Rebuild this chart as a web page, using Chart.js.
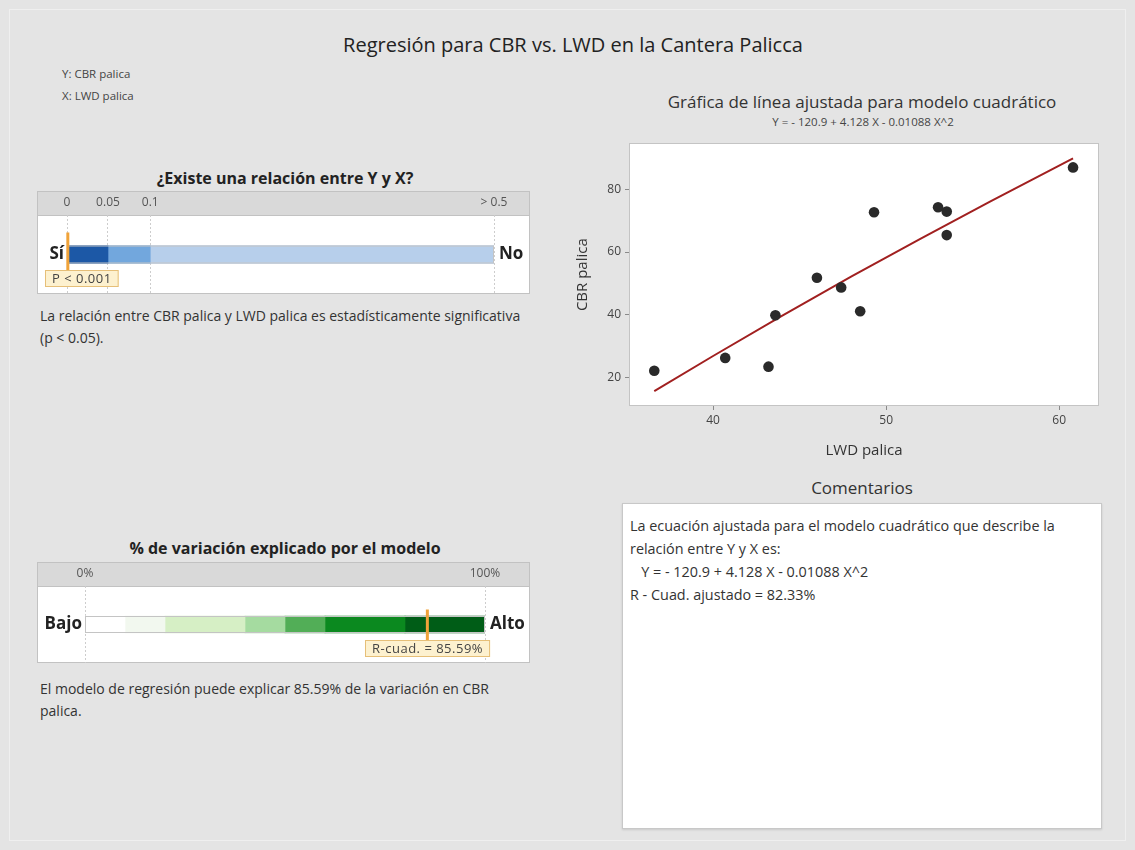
<!DOCTYPE html>
<html lang="es">
<head>
<meta charset="utf-8">
<title>Regresión para CBR vs. LWD en la Cantera Palicca</title>
<script src="https://cdn.jsdelivr.net/npm/chart.js@4.4.1/dist/chart.umd.min.js"></script>
<style>
  html, body { margin: 0; padding: 0; }
  body {
    width: 1135px; height: 850px; position: relative; overflow: hidden;
    background: #e4e4e4; color: #333;
    font-family: "Open Sans", "Noto Sans", sans-serif;
  }
  .abs { position: absolute; white-space: nowrap; }
  .marco { left: 9px; top: 9px; width: 1115px; height: 830px; border: 1px solid #efefef; }
  .titulo { left: 0; width: 1146px; top: 31px; line-height: 28px; font-size: 20px; text-align: center; color: #222; }
  .vars { left: 62px; top: 63px; font-size: 11.5px; line-height: 22px; color: #444; }
  .subt { font-weight: bold; font-size: 16px; line-height: 22px; text-align: center; color: #222; }
  .nota { left: 40px; font-size: 14px; line-height: 21.5px; color: #333; }
  .graf { font-size: 17px; line-height: 22px; text-align: center; color: #333; }
  .ecu { font-size: 11.5px; line-height: 16px; text-align: center; color: #444; }
  .coment {
    left: 622px; top: 503px; width: 478px; height: 324px; background: #fff;
    border: 1px solid #c8c8c8; box-shadow: 0 1px 2px rgba(0,0,0,0.12);
  }
  .coment p { margin: 0; padding: 10px 0 0 7px; font-size: 14.4px; line-height: 23px; color: #333; white-space: pre; }
  canvas { position: absolute; }
</style>
</head>
<body>
<div class="abs marco"></div>
<div class="abs titulo">Regresión para CBR vs. LWD en la Cantera Palicca</div>
<div class="abs vars">Y: CBR palica<br>X: LWD palica</div>

<div class="abs subt" style="left:37px; width:496px; top:167px;">¿Existe una relación entre Y y X?</div>
<canvas id="medidorP" width="493" height="103" style="left:37px; top:191px;"></canvas>
<div class="abs nota" style="top:305px;">La relación entre CBR palica y LWD palica es estadísticamente significativa<br>(p &lt; 0.05).</div>

<div class="abs subt" style="left:37px; width:496px; top:537px;">% de variación explicado por el modelo</div>
<canvas id="medidorR2" width="493" height="101" style="left:37px; top:562px;"></canvas>
<div class="abs nota" style="top:678px;">El modelo de regresión puede explicar 85.59% de la variación en CBR<br>palica.</div>

<div class="abs graf" style="left:600px; width:524px; top:91px;">Gráfica de línea ajustada para modelo cuadrático</div>
<div class="abs ecu" style="left:600px; width:526px; top:114px;">Y = - 120.9 + 4.128 X - 0.01088 X^2</div>
<canvas id="ajuste" width="545" height="325" style="left:565px; top:138px;"></canvas>

<div class="abs graf" style="left:622px; width:480px; top:477px;">Comentarios</div>
<div class="abs coment"><p>La ecuación ajustada para el modelo cuadrático que describe la
relación entre Y y X es:
   Y = - 120.9 + 4.128 X - 0.01088 X^2
R - Cuad. ajustado = 82.33%</p></div>

<script>
// ─── Datos: gráfica de línea ajustada ───
const lwdPalica = [36.6, 40.7, 43.2, 43.6, 46.0, 47.4, 48.5, 49.3, 53.0, 53.5, 53.5, 60.8];
const cbrPalica = [22.1, 26.2, 23.4, 39.8, 51.8, 48.7, 41.1, 72.7, 74.3, 72.9, 65.4, 87.0];
const ajusteX = [36.6, 40, 44, 48, 52, 56, 60.8];
const ajusteY = [15.6, 26.8, 39.7, 52.2, 64.3, 76.1, 89.9];
const ticksX = [40, 50, 60];
const ticksY = [20, 40, 60, 80];

// ─── Datos: medidor del valor p ───
const pCortes = [0, 0.05, 0.1, 0.5];
const pTicks = [0, 0.05, 0.1, 0.5];
const pEtiquetas = ['0', '0.05', '0.1', '> 0.5'];
const pValor = 0.001;
const pTexto = 'P < 0.001';

// ─── Datos: medidor de R-cuadrado ───
const r2Cortes = [0, 10, 20, 40, 50, 60, 80, 100];
const r2Ticks = [0, 100];
const r2Etiquetas = ['0%', '100%'];
const r2Valor = 85.59;
const r2Texto = 'R-cuad. = 85.59%';

const FUENTE = '"Open Sans", "Noto Sans", sans-serif';

// El medidor p usa una escala por tramos (0 / 0.05 / 0.1 / 0.5)
const pTramos = [0, 0.096, 0.195, 1];
function escalaP(v) {
    for (let i = 1; i < pCortes.length; i++) {
        if (v <= pCortes[i]) {
            const t = (v - pCortes[i - 1]) / (pCortes[i] - pCortes[i - 1]);
            return pTramos[i - 1] + t * (pTramos[i] - pTramos[i - 1]);
        }
    }
    return 1;
}
const lineal = v => v;

// Fondo, cabecera gris, marcador y etiquetas del medidor
const medidorPlugin = {
    id: 'medidor',
    beforeDraw(chart) {
        const { ctx, chartArea: a, width, height } = chart;
        ctx.save();
        ctx.fillStyle = '#ffffff';
        ctx.fillRect(0, 0, width, height);
        ctx.fillStyle = '#d9d9d9';
        ctx.fillRect(0, 0, width, a.top);
        ctx.strokeStyle = '#c2c2c2';
        ctx.lineWidth = 1;
        ctx.strokeRect(0.5, 0.5, width - 1, height - 1);
        ctx.beginPath();
        ctx.moveTo(0, a.top + 0.5);
        ctx.lineTo(width, a.top + 0.5);
        ctx.stroke();
        ctx.restore();
    },
    afterDatasetsDraw(chart, args, o) {
        const { ctx, chartArea: a, width } = chart;
        const barra = chart.getDatasetMeta(0).data[0];
        const yc = barra.y, h = barra.height;
        const xs = chart.scales.x;
        const x0 = xs.getPixelForValue(xs.min), x1 = xs.getPixelForValue(xs.max);
        ctx.save();
        ctx.strokeStyle = '#c4c4c4';
        ctx.lineWidth = 1;
        ctx.strokeRect(x0 + 0.5, yc - h / 2 + 0.5, x1 - x0 - 1, h - 1);

        ctx.font = 'bold 17px ' + FUENTE;
        ctx.fillStyle = '#222';
        ctx.textBaseline = 'middle';
        ctx.textAlign = 'right';
        ctx.fillText(o.izquierda, a.left - 3, yc);
        ctx.textAlign = 'left';
        ctx.fillText(o.derecha, a.right + 5, yc);

        // caja con el valor
        ctx.font = '13px ' + FUENTE;
        ctx.letterSpacing = '0.5px';
        const tw = ctx.measureText(o.texto).width + 14, th = 17;
        const mx = xs.getPixelForValue(o.valor);
        const bx = Math.round(Math.min(Math.max(mx - tw / 2, 8), width - 8 - tw));
        const by = Math.round(yc + 15);
        ctx.fillStyle = '#fdf1cf';
        ctx.fillRect(bx, by, tw, th);
        ctx.strokeStyle = '#e6bf78';
        ctx.strokeRect(bx + 0.5, by + 0.5, tw - 1, th - 1);
        ctx.fillStyle = '#444';
        ctx.textAlign = 'center';
        ctx.fillText(o.texto, bx + tw / 2, by + th / 2 + 0.5);
        ctx.letterSpacing = '0px';

        // marcador naranja
        ctx.strokeStyle = '#f0a33a';
        ctx.lineWidth = 3;
        ctx.beginPath();
        ctx.moveTo(mx, yc - o.alto);
        ctx.lineTo(mx, by);
        ctx.stroke();
        ctx.restore();
    }
};

function medidor(canvasId, cortes, colores, ticks, etiquetas, escala, relleno, barra, opciones) {
    const canvas = document.getElementById(canvasId);
    return new Chart(canvas.getContext('2d'), {
        type: 'bar',
        data: {
            labels: [''],
            datasets: colores.map((c, i) => ({
                data: [[escala(cortes[i]), escala(cortes[i + 1])]],
                backgroundColor: c,
                borderWidth: 0,
                barThickness: barra,
                grouped: false
            }))
        },
        options: {
            indexAxis: 'y',
            responsive: false,
            animation: false,
            layout: { padding: relleno },
            plugins: {
                legend: { display: false },
                tooltip: { enabled: false },
                medidor: opciones
            },
            scales: {
                x: {
                    type: 'linear',
                    position: 'top',
                    min: escala(cortes[0]),
                    max: escala(cortes[cortes.length - 1]),
                    afterBuildTicks: s => { s.ticks = ticks.map(v => ({ value: escala(v) })); },
                    afterFit: s => { s.height = 24; s.paddingLeft = 0; s.paddingRight = 0; },
                    grid: { color: '#cdcdcd', drawTicks: false },
                    border: { display: false, dash: [2, 2] },
                    ticks: {
                        autoSkip: false,
                        maxRotation: 0,
                        padding: 5,
                        color: '#555',
                        font: { family: FUENTE, size: 12 },
                        callback: (v, i) => etiquetas[i]
                    }
                },
                y: { display: false }
            }
        },
        plugins: [medidorPlugin]
    });
}

medidor('medidorP', pCortes, ['#1c58a6', '#72a7dd', '#b7cfeb'], pTicks, pEtiquetas, escalaP,
    { left: 30, right: 36 }, 18,
    { valor: escalaP(pValor), texto: pTexto, izquierda: 'Sí', derecha: 'No', alto: 22 });

medidor('medidorR2', r2Cortes,
    ['#ffffff', '#f2f8ef', '#d6efc5', '#a5dba0', '#52ae57', '#0b891f', '#005d17'],
    r2Ticks, r2Etiquetas, lineal,
    { left: 48, right: 45 }, 17,
    { valor: r2Valor, texto: r2Texto, izquierda: 'Bajo', derecha: 'Alto', alto: 15 });

// ─── Gráfica de línea ajustada ───
const fondoPlugin = {
    id: 'fondo',
    beforeDraw(chart) {
        const { ctx, chartArea: a } = chart;
        ctx.save();
        ctx.fillStyle = '#ffffff';
        ctx.fillRect(a.left, a.top, a.width, a.height);
        ctx.restore();
    },
    afterDraw(chart) {
        const { ctx, chartArea: a } = chart;
        ctx.save();
        ctx.strokeStyle = '#c4c4c4';
        ctx.lineWidth = 1;
        ctx.strokeRect(Math.round(a.left) + 0.5, Math.round(a.top) + 0.5,
            Math.round(a.width) - 1, Math.round(a.height) - 1);
        ctx.restore();
    }
};

const tickFont = { family: FUENTE, size: 12 };
const titleFont = { family: FUENTE, size: 15 };
new Chart(document.getElementById('ajuste').getContext('2d'), {
    type: 'scatter',
    data: {
        datasets: [
            {
                data: lwdPalica.map((x, i) => ({ x, y: cbrPalica[i] })),
                backgroundColor: '#2a2a2a',
                borderColor: '#2a2a2a',
                pointRadius: 5.3,
                borderWidth: 0,
                order: 1
            },
            {
                data: ajusteX.map((x, i) => ({ x, y: ajusteY[i] })),
                showLine: true,
                borderColor: '#a12020',
                borderWidth: 2,
                pointRadius: 0,
                order: 2
            }
        ]
    },
    options: {
        responsive: false,
        animation: false,
        layout: { padding: { top: 5, right: 11, left: 0, bottom: 0 } },
        plugins: { legend: { display: false }, tooltip: { enabled: false } },
        scales: {
            x: {
                type: 'linear',
                min: 35.14,
                max: 62.3,
                afterBuildTicks: s => { s.ticks = ticksX.map(v => ({ value: v })); },
                afterFit: s => { s.height = 57; s.paddingLeft = 0; s.paddingRight = 0; },
                grid: { drawOnChartArea: false, tickLength: 4, color: '#8a8a8a' },
                border: { display: false },
                ticks: { padding: 3, color: '#444', font: tickFont },
                title: {
                    display: true, text: 'LWD palica', color: '#333',
                    font: titleFont, padding: { top: 4, bottom: 3.5 }
                }
            },
            y: {
                type: 'linear',
                min: 10.84,
                max: 94.7,
                afterBuildTicks: s => { s.ticks = ticksY.map(v => ({ value: v })); },
                afterFit: s => { s.width = 64; s.paddingTop = 0; s.paddingBottom = 0; },
                grid: { drawOnChartArea: false, tickLength: 4, color: '#8a8a8a' },
                border: { display: false },
                ticks: { padding: 4, color: '#444', font: tickFont },
                title: {
                    display: true, text: 'CBR palica', color: '#333',
                    font: titleFont, padding: { top: 9, bottom: 4 }
                }
            }
        }
    },
    plugins: [fondoPlugin]
});
</script>
</body>
</html>
